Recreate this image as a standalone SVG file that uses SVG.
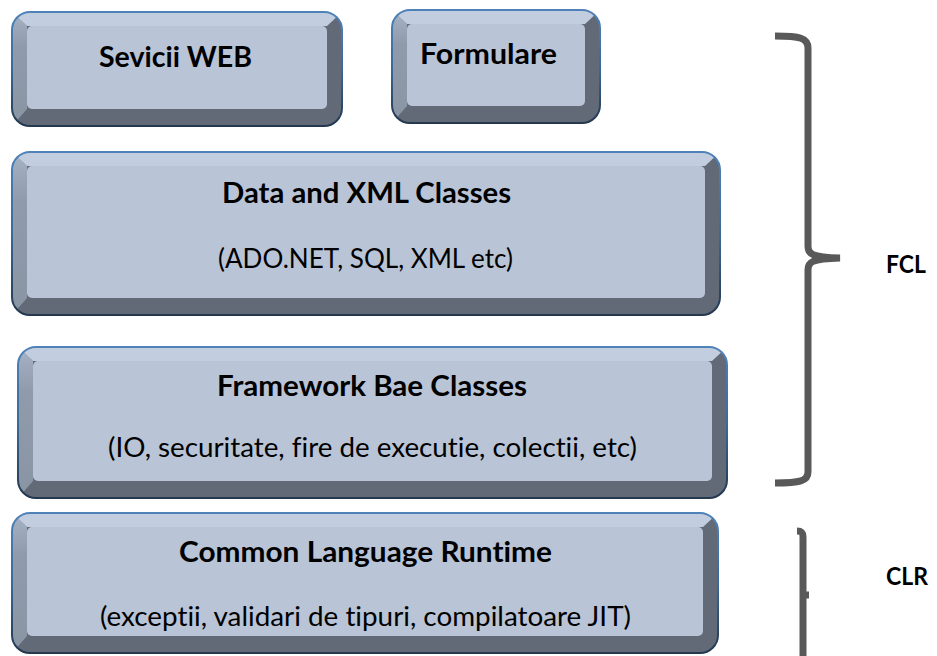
<svg xmlns="http://www.w3.org/2000/svg" width="937" height="656" viewBox="0 0 937 656">
<defs>
<linearGradient id="edge" x1="0" y1="0" x2="0" y2="1">
<stop offset="0" stop-color="#4f82b8"/>
<stop offset="0.5" stop-color="#3a6a9a"/>
<stop offset="1" stop-color="#24384f"/>
</linearGradient>
<linearGradient id="leftg" x1="0" y1="0" x2="0" y2="1">
<stop offset="0" stop-color="#a6b3c6"/>
<stop offset="0.3" stop-color="#8f9bab"/>
<stop offset="1" stop-color="#8a95a4"/>
</linearGradient>
<clipPath id="c1"><rect x="12" y="12" width="330" height="114" rx="18"/></clipPath>
<clipPath id="c2"><rect x="392" y="10" width="208" height="113" rx="18"/></clipPath>
<clipPath id="c3"><rect x="12" y="152" width="708" height="163" rx="18"/></clipPath>
<clipPath id="c4"><rect x="18" y="347" width="709" height="151" rx="18"/></clipPath>
<clipPath id="c5"><rect x="12" y="513" width="706" height="140" rx="18"/></clipPath>
</defs>
<style>
.base{fill:#636a77}
.lb{fill:url(#leftg)}
.tb{fill:#c2cee0}
.face{fill:#b9c4d6}
.edge{fill:none;stroke:url(#edge);stroke-width:2}
.t,.s,.l{font-family:Lato,"Liberation Sans",sans-serif;fill:#000;font-variant-ligatures:none;font-feature-settings:"liga" 0,"clig" 0}
.t{font-weight:bold;font-size:28px}
.l{font-weight:bold;font-size:25px}
.s{font-size:27px}
.br{fill:none;stroke:#595959;stroke-width:7}
</style>
<g id="sevicii-web">
<rect class="base" x="12" y="12" width="330" height="114" rx="18"/>
<g clip-path="url(#c1)">
<polygon class="lb" points="12,12 27,26 27,109 12,126"/>
<polygon class="tb" points="12,12 342,12 327,26 27,26"/>
</g>
<rect class="face" x="27" y="26" width="300" height="83" rx="5"/>
<rect class="edge" x="12" y="12" width="330" height="114" rx="18"/>
<text class="t" x="99" y="67" textLength="153" lengthAdjust="spacingAndGlyphs">Sevicii WEB</text>
</g>
<g id="formulare">
<rect class="base" x="392" y="10" width="208" height="113" rx="18"/>
<g clip-path="url(#c2)">
<polygon class="lb" points="392,10 407,24 407,106 392,123"/>
<polygon class="tb" points="392,10 600,10 585,24 407,24"/>
</g>
<rect class="face" x="407" y="24" width="178" height="82" rx="5"/>
<rect class="edge" x="392" y="10" width="208" height="113" rx="18"/>
<text class="t" x="420" y="64" textLength="137" lengthAdjust="spacingAndGlyphs">Formulare</text>
</g>
<g id="data-xml">
<rect class="base" x="12" y="152" width="708" height="163" rx="18"/>
<g clip-path="url(#c3)">
<polygon class="lb" points="12,152 27,166 27,298 12,315"/>
<polygon class="tb" points="12,152 720,152 705,166 27,166"/>
</g>
<rect class="face" x="27" y="166" width="678" height="132" rx="5"/>
<rect class="edge" x="12" y="152" width="708" height="163" rx="18"/>
<text class="t" x="222" y="203" textLength="289" lengthAdjust="spacingAndGlyphs">Data and XML Classes</text>
<text class="s" x="218" y="268" textLength="295" lengthAdjust="spacingAndGlyphs">(ADO.NET, SQL, XML etc)</text>
</g>
<g id="framework">
<rect class="base" x="18" y="347" width="709" height="151" rx="18"/>
<g clip-path="url(#c4)">
<polygon class="lb" points="18,347 33,361 33,481 18,498"/>
<polygon class="tb" points="18,347 727,347 712,361 33,361"/>
</g>
<rect class="face" x="33" y="361" width="679" height="120" rx="5"/>
<rect class="edge" x="18" y="347" width="709" height="151" rx="18"/>
<text class="t" x="217" y="396" textLength="310" lengthAdjust="spacingAndGlyphs">Framework Bae Classes</text>
<text class="s" x="108" y="457" textLength="529" lengthAdjust="spacingAndGlyphs">(IO, securitate, fire de executie, colectii, etc)</text>
</g>
<g id="clr-box">
<rect class="base" x="12" y="513" width="706" height="140" rx="18"/>
<g clip-path="url(#c5)">
<polygon class="lb" points="12,513 27,527 27,636 12,653"/>
<polygon class="tb" points="12,513 718,513 703,527 27,527"/>
</g>
<rect class="face" x="27" y="527" width="676" height="109" rx="5"/>
<rect class="edge" x="12" y="513" width="706" height="140" rx="18"/>
<text class="t" x="179" y="562" textLength="373" lengthAdjust="spacingAndGlyphs">Common Language Runtime</text>
<text class="s" x="100" y="626" textLength="531" lengthAdjust="spacingAndGlyphs">(exceptii, validari de tipuri, compilatoare JIT)</text>
</g>
<g id="connectors">
<path class="br" d="M775,36 C800,36 808,38 808,48 L808,246 C808,254 811,257 840,258 C811,259 808,262 808,270 L808,472 C808,481 800,483 775,483"/>
<path class="br" d="M797,531 C802,531 803,533 803,537 L803,656 M803,595 L809,595"/>
</g>
<g id="fcl-label"><text class="l" x="886" y="273" textLength="40" lengthAdjust="spacingAndGlyphs">FCL</text></g>
<g id="clr-label"><text class="l" x="886" y="585" textLength="42" lengthAdjust="spacingAndGlyphs">CLR</text></g>
</svg>
